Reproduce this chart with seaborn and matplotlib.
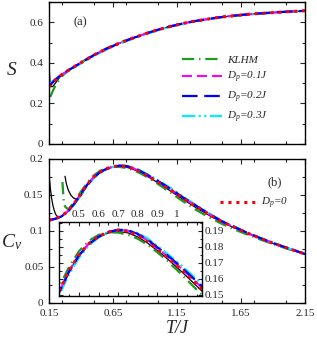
import numpy as np
import pandas as pd
import seaborn as sns
import matplotlib.pyplot as plt
from matplotlib.ticker import MultipleLocator, FixedLocator

sns.set_style("ticks")
plt.rcParams['font.family'] = ['Liberation Serif', 'DejaVu Serif']
plt.rcParams['mathtext.fontset'] = 'custom'
plt.rcParams['mathtext.it'] = 'Liberation Serif:italic'
plt.rcParams['mathtext.rm'] = 'Liberation Serif'

# ---- entropy S(T), panel (a) ----
T_s = [0.15, 0.175, 0.2, 0.25, 0.3, 0.35, 0.4, 0.5, 0.6, 0.7, 0.8, 0.9, 1.0,
       1.1, 1.2, 1.3, 1.4, 1.5, 1.6, 1.7, 1.8, 1.9, 2.0, 2.1, 2.15]
s_dp0 = [0.282, 0.300, 0.316, 0.342, 0.363, 0.382, 0.401, 0.438, 0.470, 0.497, 0.521, 0.543, 0.563,
         0.580, 0.595, 0.607, 0.617, 0.626, 0.633, 0.639, 0.644, 0.648, 0.652, 0.655, 0.657]
s_dp01 = [0.283, 0.301, 0.317, 0.342, 0.363, 0.382, 0.401, 0.438, 0.470, 0.497, 0.521, 0.543, 0.563,
          0.580, 0.595, 0.607, 0.617, 0.626, 0.633, 0.639, 0.644, 0.648, 0.652, 0.655, 0.657]
s_dp02 = [0.285, 0.302, 0.318, 0.343, 0.363, 0.382, 0.401, 0.438, 0.470, 0.497, 0.521, 0.543, 0.563,
          0.580, 0.595, 0.607, 0.617, 0.626, 0.633, 0.639, 0.644, 0.648, 0.652, 0.655, 0.657]
s_dp03 = [0.298, 0.308, 0.320, 0.340, 0.359, 0.378, 0.397, 0.434, 0.466, 0.494, 0.518, 0.540, 0.561,
          0.578, 0.593, 0.606, 0.616, 0.625, 0.632, 0.638, 0.643, 0.647, 0.651, 0.654, 0.656]
T_s_klhm = [0.16, 0.175, 0.2, 0.225, 0.25, 0.3, 0.35, 0.4, 0.5, 0.6, 0.7, 0.8, 0.9, 1.0,
            1.1, 1.2, 1.3, 1.4, 1.5, 1.6, 1.7, 1.8, 1.9, 2.0, 2.1, 2.15]
s_klhm = [0.232, 0.255, 0.288, 0.313, 0.333, 0.362, 0.383, 0.402, 0.440, 0.472, 0.499, 0.522, 0.544, 0.563,
          0.580, 0.595, 0.607, 0.617, 0.626, 0.633, 0.639, 0.644, 0.648, 0.652, 0.655, 0.657]
T_s_black = [0.1505, 0.153, 0.157, 0.162, 0.17, 0.18, 0.2, 0.225, 0.25, 0.3, 0.35, 0.4, 0.5, 0.6,
             0.7, 0.8, 0.9, 1.0, 1.1, 1.2, 1.3, 1.4, 1.5, 1.6, 1.7, 1.8, 1.9, 2.0, 2.1, 2.15]
s_black = [0.42, 0.36, 0.315, 0.292, 0.282, 0.284, 0.300, 0.322, 0.341, 0.362, 0.382, 0.401, 0.438, 0.470,
           0.497, 0.521, 0.543, 0.563, 0.580, 0.595, 0.607, 0.617, 0.626, 0.633, 0.639, 0.644, 0.648, 0.652, 0.655, 0.657]

# ---- specific heat Cv(T), panel (b) ----
T_cv = [0.15, 0.2, 0.25, 0.3, 0.35, 0.4, 0.45, 0.5, 0.55, 0.6, 0.65, 0.7, 0.75, 0.8, 0.85, 0.9,
        0.95, 1.0, 1.05, 1.1, 1.15, 1.2, 1.3, 1.4, 1.5, 1.6, 1.7, 1.8, 1.9, 2.0, 2.1, 2.15]
cv_dp0 = [0.115, 0.117, 0.121, 0.128, 0.139, 0.152, 0.165, 0.175, 0.182, 0.1865, 0.1893, 0.1905, 0.1898, 0.1872, 0.1835, 0.1785,
          0.1735, 0.1682, 0.1627, 0.1570, 0.1510, 0.1450, 0.1340, 0.1230, 0.1130, 0.1050, 0.0970, 0.0900, 0.0830, 0.0770, 0.0710, 0.0680]
cv_dp01 = [0.115, 0.117, 0.121, 0.128, 0.139, 0.152, 0.165, 0.175, 0.182, 0.1865, 0.1894, 0.1906, 0.1901, 0.1876, 0.1840, 0.1790,
           0.1741, 0.1688, 0.1633, 0.1576, 0.1516, 0.1456, 0.1345, 0.1234, 0.1133, 0.1052, 0.0972, 0.0901, 0.0831, 0.0771, 0.0711, 0.0681]
cv_dp02 = [0.115, 0.117, 0.1205, 0.1275, 0.1385, 0.1515, 0.1645, 0.1745, 0.1817, 0.1863, 0.1893, 0.1907, 0.1904, 0.1881, 0.1846, 0.1797,
           0.1748, 0.1696, 0.1641, 0.1584, 0.1524, 0.1463, 0.1350, 0.1238, 0.1136, 0.1054, 0.0974, 0.0902, 0.0832, 0.0772, 0.0712, 0.0681]
cv_dp03 = [0.115, 0.1168, 0.1200, 0.1265, 0.1370, 0.1498, 0.1628, 0.1732, 0.1808, 0.1858, 0.1890, 0.1906, 0.1906, 0.1886, 0.1853, 0.1806,
           0.1758, 0.1707, 0.1653, 0.1596, 0.1536, 0.1474, 0.1360, 0.1247, 0.1143, 0.1060, 0.0979, 0.0906, 0.0835, 0.0774, 0.0714, 0.0683]
T_cv_klhm = [0.255, 0.26, 0.265, 0.275, 0.3, 0.35, 0.4, 0.45, 0.5, 0.55, 0.6, 0.65, 0.7, 0.75, 0.8, 0.85, 0.9,
             0.95, 1.0, 1.05, 1.1, 1.15, 1.2, 1.3, 1.4, 1.5, 1.6, 1.7, 1.8, 1.9, 2.0, 2.1, 2.15]
cv_klhm = [0.168, 0.154, 0.142, 0.134, 0.130, 0.141, 0.155, 0.1675, 0.1772, 0.1838, 0.1875, 0.1891, 0.1890, 0.1876, 0.1851, 0.1813, 0.1766,
           0.1713, 0.1655, 0.1594, 0.1532, 0.1470, 0.1408, 0.1292, 0.1190, 0.1100, 0.1020, 0.0950, 0.0882, 0.0818, 0.0760, 0.0703, 0.0677]
T_cv_black = [0.152, 0.16, 0.17, 0.18, 0.19, 0.2, 0.21, 0.23, 0.25, 0.3, 0.35, 0.4, 0.45, 0.5, 0.55, 0.6, 0.65, 0.7, 0.75,
              0.8, 0.85, 0.9, 0.95, 1.0, 1.05, 1.1, 1.15, 1.2, 1.3, 1.4, 1.5, 1.6, 1.7, 1.8, 1.9, 2.0, 2.1, 2.15]
cv_black = [0.175, 0.160, 0.146, 0.136, 0.129, 0.124, 0.121, 0.119, 0.1205, 0.1275, 0.1385, 0.1515, 0.1645, 0.1748, 0.1818, 0.1862, 0.1888, 0.1896, 0.1888,
            0.1862, 0.1824, 0.1776, 0.1726, 0.1671, 0.1614, 0.1555, 0.1495, 0.1435, 0.1322, 0.1218, 0.1122, 0.1042, 0.0966, 0.0896, 0.0828, 0.0769, 0.0709, 0.0679]
T_cv_black2 = [0.275, 0.285, 0.3, 0.32, 0.34, 0.36, 0.38, 0.4, 0.42]
cv_black2 = [0.176, 0.166, 0.157, 0.150, 0.146, 0.1445, 0.1455, 0.149, 0.155]

# line looks
styles = {
    'black': dict(color='black', lw=0.9, linestyle='-'),
    'klhm': dict(color='#1f9a1f', lw=1.6, linestyle=(0, (5.5, 2.2, 0.6, 2.2))),
    'dp03': dict(color='#00f0ff', lw=1.6, linestyle=(0, (6, 1.5, 1, 1.5, 1, 1.5))),
    'dp01': dict(color='#ff00ff', lw=1.5, linestyle=(0, (4.8, 2.4))),
    'dp02': dict(color='#0000ff', lw=1.6, linestyle=(0, (7, 3))),
    'dp0': dict(color='red', lw=2.2, linestyle=(0, (1, 1.6))),
}


def draw(ax, x, y, key):
    sns.lineplot(x=x, y=y, ax=ax, sort=False, estimator=None, legend=False, **styles[key])
    return ax.lines[-1]


def style_axes(ax, fs=8):
    ax.tick_params(which='both', direction='in', top=True, right=True, labelsize=fs, width=0.8)
    ax.tick_params(which='major', length=3.5, pad=4)
    ax.tick_params(which='minor', length=2)
    for sp in ax.spines.values():
        sp.set_linewidth(1.0)
        sp.set_color('black')


fig = plt.figure(figsize=(3.17, 3.38), dpi=100)
ax1 = fig.add_axes([0.1546, 0.574, 0.8076, 0.420])
ax2 = fig.add_axes([0.1546, 0.1036, 0.8076, 0.426])

xticks = [0.15, 0.65, 1.15, 1.65, 2.15]

# panel (a)
draw(ax1, T_s_black, s_black, 'black')
h_klhm = draw(ax1, T_s_klhm, s_klhm, 'klhm')
h_03 = draw(ax1, T_s, s_dp03, 'dp03')
h_01 = draw(ax1, T_s, s_dp01, 'dp01')
h_02 = draw(ax1, T_s, s_dp02, 'dp02')
draw(ax1, T_s, s_dp0, 'dp0')
ax1.set_xlim(0.15, 2.15)
ax1.set_ylim(0, 0.7)
ax1.set_xticks(xticks)
ax1.set_xticklabels([])
ax1.xaxis.set_minor_locator(MultipleLocator(0.25))
ax1.set_yticks([0, 0.2, 0.4, 0.6])
ax1.set_yticklabels(['0', '0.2', '0.4', '0.6'])
ax1.yaxis.set_minor_locator(MultipleLocator(0.1))
ax1.set_xlabel('')
ax1.set_ylabel('S', rotation=0, fontsize=14, style='italic', ha='center', va='center')
ax1.yaxis.set_label_coords(-0.145, 0.52)
style_axes(ax1)
ax1.text(0.121, 0.86, '(a)', transform=ax1.transAxes, fontsize=9, ha='center', va='center')
ax1.legend([h_klhm, h_01, h_02, h_03],
           ['KLHM', '$D_p$=0.1J', '$D_p$=0.2J', '$D_p$=0.3J'],
           loc='upper left', bbox_to_anchor=(0.52, 0.625), frameon=False,
           prop={'size': 8, 'style': 'italic'}, handlelength=3.6, handletextpad=0.45,
           labelspacing=0.45, borderpad=0, borderaxespad=0)

# panel (b)
draw(ax2, T_cv_black, cv_black, 'black')
draw(ax2, T_cv_black2, cv_black2, 'black')
draw(ax2, T_cv_klhm, cv_klhm, 'klhm')
draw(ax2, T_cv, cv_dp03, 'dp03')
draw(ax2, T_cv, cv_dp01, 'dp01')
draw(ax2, T_cv, cv_dp02, 'dp02')
h_0 = draw(ax2, T_cv, cv_dp0, 'dp0')
ax2.set_xlim(0.15, 2.15)
ax2.set_ylim(0, 0.2)
ax2.set_xticks(xticks)
ax2.set_xticklabels(['0.15', '0.65', '1.15', '1.65', '2.15'])
ax2.xaxis.set_minor_locator(MultipleLocator(0.25))
ax2.set_yticks([0, 0.05, 0.1, 0.15, 0.2])
ax2.set_yticklabels(['0', '0.05', '0.1', '0.15', '0.2'])
ax2.yaxis.set_minor_locator(MultipleLocator(0.025))
ax2.set_xlabel('T/J', fontsize=13, style='italic', labelpad=2)
ax2.set_ylabel('$C_v$', rotation=0, fontsize=14, ha='center', va='center')
ax2.yaxis.set_label_coords(-0.145, 0.42)
style_axes(ax2)
ax2.text(0.883, 0.84, '(b)', transform=ax2.transAxes, fontsize=9, ha='center', va='center')
ax2.legend([h_0], ['$D_p$=0'], loc='center left', bbox_to_anchor=(0.668, 0.69),
           frameon=False, prop={'size': 8, 'style': 'italic'}, handlelength=3.2,
           handletextpad=0.5, borderpad=0, borderaxespad=0)

# inset of panel (b)
ins = fig.add_axes([0.187, 0.1257, 0.450, 0.2175])
ins.set_facecolor('white')
draw(ins, T_cv_black, cv_black, 'black')
draw(ins, T_cv_klhm, cv_klhm, 'klhm')
draw(ins, T_cv, cv_dp03, 'dp03')
draw(ins, T_cv, cv_dp01, 'dp01')
draw(ins, T_cv, cv_dp02, 'dp02')
draw(ins, T_cv, cv_dp0, 'dp0')
ins.set_xlim(0.4, 1.127)
ins.set_ylim(0.1495, 0.1956)
ins.xaxis.set_major_locator(FixedLocator([0.5, 0.6, 0.7, 0.8, 0.9, 1.0]))
ins.set_xticklabels(['0.5', '0.6', '0.7', '0.8', '0.9', '1'])
ins.xaxis.set_minor_locator(MultipleLocator(0.05))
ins.yaxis.set_major_locator(FixedLocator([0.15, 0.16, 0.17, 0.18, 0.19]))
ins.set_yticklabels(['0.15', '0.16', '0.17', '0.18', '0.19'])
ins.yaxis.set_minor_locator(MultipleLocator(0.005))
ins.set_xlabel('')
ins.set_ylabel('')
style_axes(ins)
ins.tick_params(which='major', length=3, pad=2)
ins.tick_params(which='minor', length=1.8)
ins.tick_params(labelbottom=False, labeltop=True, labelleft=False, labelright=True)

fig.savefig('out.png', dpi=100)
